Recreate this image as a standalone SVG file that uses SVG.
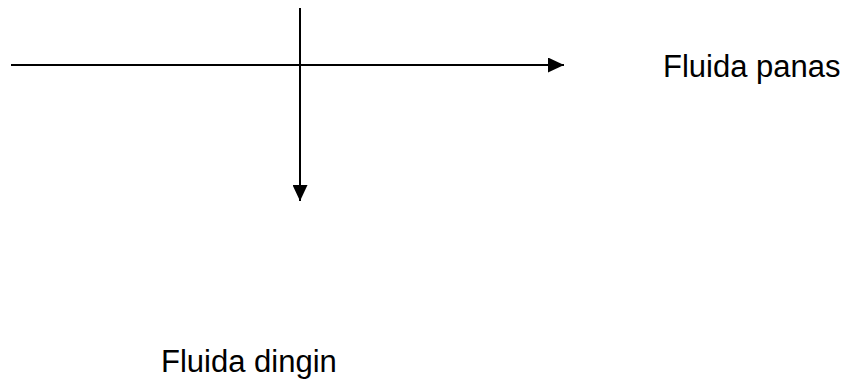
<svg xmlns="http://www.w3.org/2000/svg" width="849" height="381" viewBox="0 0 849 381">
<style>
.ln{stroke:#000;stroke-width:2;fill:none}
.lbl{font-family:"Liberation Sans",Arial,sans-serif;font-size:31px;fill:#000}
</style>
<defs>
<marker id="ah" markerUnits="userSpaceOnUse" markerWidth="17" markerHeight="15" refX="16" refY="7.5" orient="auto">
<path d="M0,0 L16,7.5 L0,15 Z" fill="#000"/>
</marker>
</defs>
<rect width="849" height="381" fill="#fff"/>
<g id="connectors">
<line class="ln" x1="11" y1="65" x2="564" y2="65" marker-end="url(#ah)"/>
<line class="ln" x1="300" y1="8" x2="300" y2="201" marker-end="url(#ah)"/>
</g>
<g id="fluida-panas"><text class="lbl" x="663" y="77">Fluida panas</text></g>
<g id="fluida-dingin"><text class="lbl" x="161" y="372">Fluida dingin</text></g>
</svg>
